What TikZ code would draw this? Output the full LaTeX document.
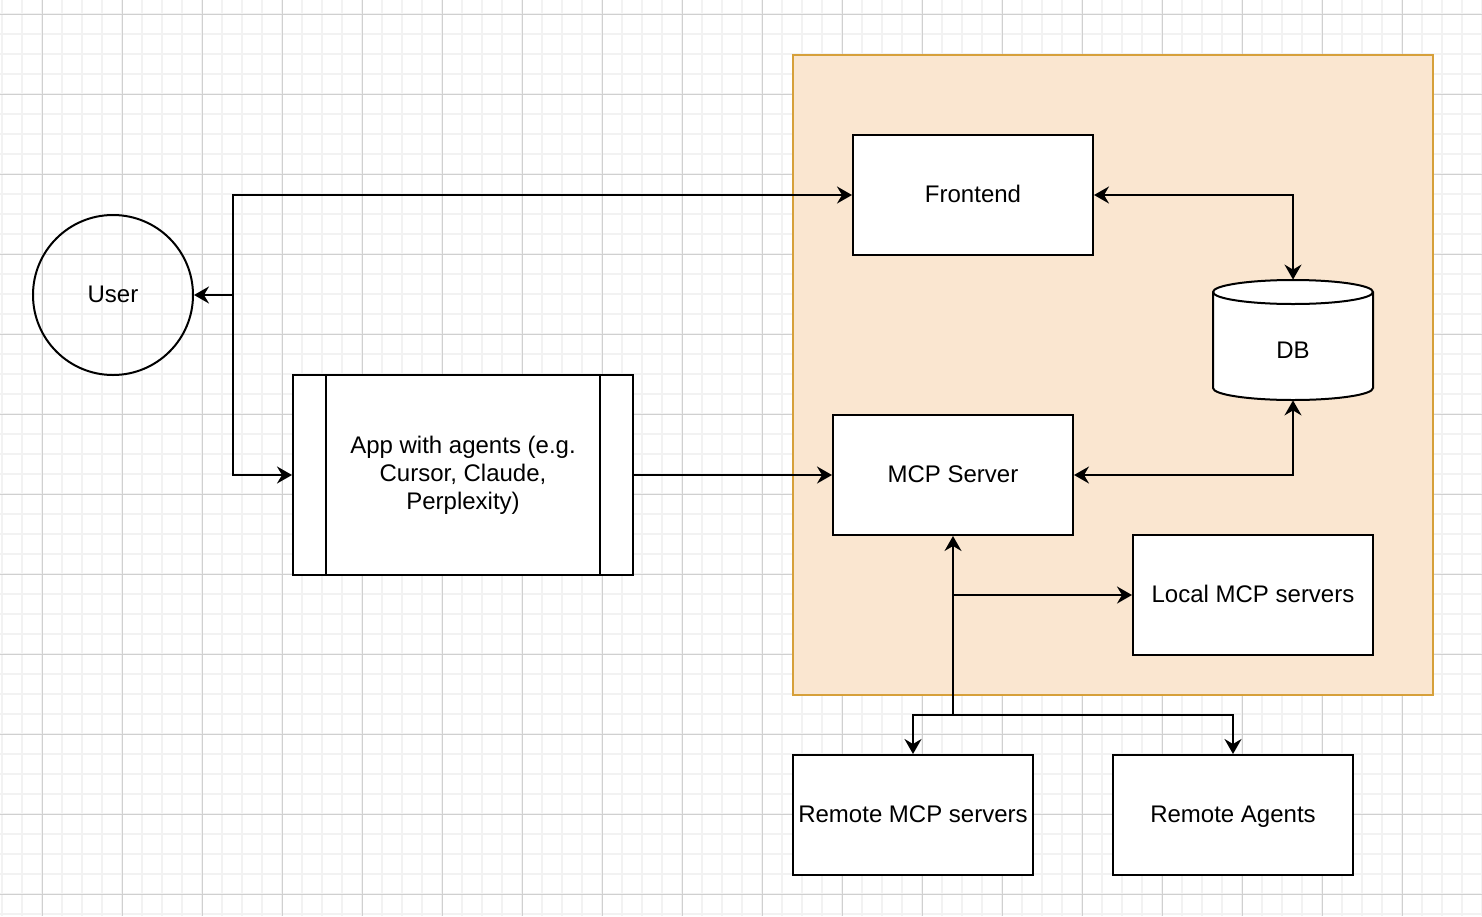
\documentclass[tikz,border=0pt]{standalone}
\usepackage{fontspec}
\setmainfont{Liberation Sans}
\usetikzlibrary{arrows.meta}
\definecolor{boxfill}{HTML}{FAE6D0}
\definecolor{boxline}{HTML}{D6A03A}
\definecolor{gridminor}{HTML}{F2F2F2}
\definecolor{gridmajor}{HTML}{D0D0D0}

\begin{document}
\begin{tikzpicture}[x=0.5pt,y=-0.5pt,>={Stealth[length=7.5pt,width=8.5pt,inset=2.5pt]},
	txt/.style={inner sep=0pt,text height=9.5pt,text depth=1.8pt,font=\fontsize{12}{14}\selectfont},
	block/.style={txt,draw,line width=1pt,fill=white,minimum width=120pt,minimum height=60pt},
	link/.style={line width=1pt}]
			\useasboundingbox (0,0) rectangle (1482,916);
			\fill[white] (0,0) rectangle (1482,916);

			% grid
			\foreach \x in {2,22,...,1482} \draw[gridminor,line width=1pt] (\x,0) -- (\x,916);
			\foreach \y in {14,34,...,916} \draw[gridminor,line width=1pt] (0,\y) -- (1482,\y);
			\foreach \x in {42,122,...,1482} \draw[gridmajor,line width=0.5pt] (\x,0) -- (\x,916);
			\foreach \y in {14,94,...,916} \draw[gridmajor,line width=0.5pt] (0,\y) -- (1482,\y);

			% container
			\draw[boxline,fill=boxfill,line width=1pt] (793,55) rectangle (1433,695);

			\node[txt,draw,circle,line width=1pt,minimum size=80pt] (user) at (113,295) {User};
			\node[block] (frontend) at (973,195) {Frontend};
			\node[block,text height={},text depth={},minimum width=170pt,minimum height=100pt,align=center] (app) at (463,475) {App with agents (e.g.\\ Cursor, Claude,\\ Perplexity)};
			\draw[link] ([xshift=17pt]app.north west) -- ([xshift=17pt]app.south west);
			\draw[link] ([xshift=-17pt]app.north east) -- ([xshift=-17pt]app.south east);
			\node[block] (mcp) at (953,475) {MCP Server};
			\node[block] (local) at (1253,595) {Local MCP servers};
			\node[block] (remote) at (913,815) {Remote MCP servers};
			\node[block] (agents) at (1233,815) {Remote Agents};

			% database
			\node[txt,minimum width=80pt,minimum height=60pt] (db) at (1293,340) {};
			\draw[link,fill=white] (1213,292) -- (1213,388) arc[start angle=180,end angle=0,x radius=80,y radius=12] -- (1373,292) arc[start angle=0,end angle=-180,x radius=80,y radius=12] -- cycle;
			\draw[link] (1213,292) arc[start angle=180,end angle=0,x radius=80,y radius=12];
			\node[txt] (dbtext) at (1293,351) {DB};

			\coordinate (split) at (233,295);
			\coordinate (tap) at (953,595);
			\coordinate (fork) at (953,715);

			\draw[link,->] (split) -- (user);
			\draw[link,->] (split) |- (frontend);
			\draw[link,->] (split) |- (app);
			\draw[link,->] (app) -- (mcp);
			\draw[link,<->] (frontend) -| (db);
			\draw[link,<->] (mcp) -| (db);
			\draw[link,->] (fork) -- (mcp);
			\draw[link,->] (tap) -- (local);
			\draw[link,->] (fork) -| (remote);
			\draw[link,->] (fork) -| (agents);
		\end{tikzpicture}
\end{document}
